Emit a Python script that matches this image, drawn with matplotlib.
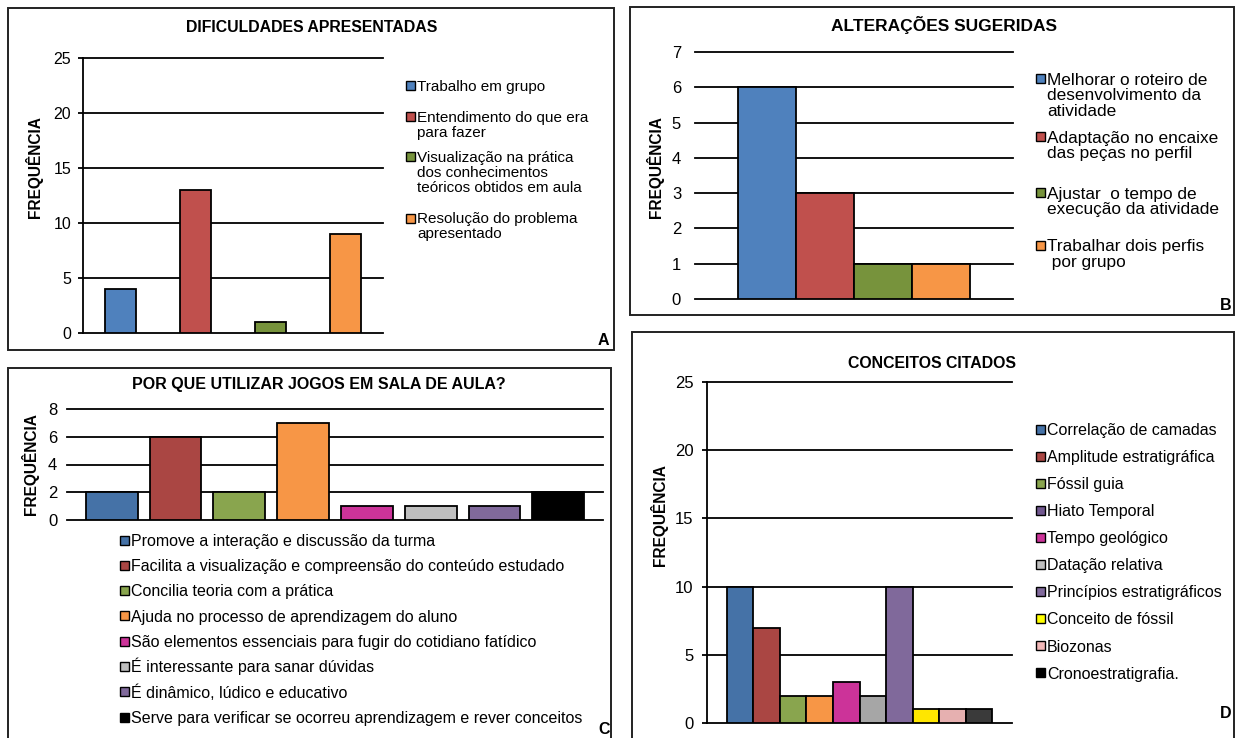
import matplotlib
matplotlib.use("Agg")
import matplotlib.pyplot as plt
from matplotlib.patches import Rectangle

plt.rcParams['font.family'] = ['Liberation Sans', 'DejaVu Sans']

W, H = 1236, 738

# ---- data -------------------------------------------------------------
a_title = "DIFICULDADES APRESENTADAS"
a_labels = ["Trabalho em grupo",
            "Entendimento do que era\npara fazer",
            "Visualização na prática\ndos conhecimentos\nteóricos obtidos em aula",
            "Resolução do problema\napresentado"]
a_values = [4, 13, 1, 9]
a_colors = ["#4F81BD", "#C0504D", "#77933C", "#F79646"]

b_title = "ALTERAÇÕES SUGERIDAS"
b_labels = ["Melhorar o roteiro de\ndesenvolvimento da\natividade",
            "Adaptação no encaixe\ndas peças no perfil",
            "Ajustar  o tempo de\nexecução da atividade",
            "Trabalhar dois perfis\n por grupo"]
b_values = [6, 3, 1, 1]
b_colors = ["#4F81BD", "#C0504D", "#77933C", "#F79646"]

c_title = "POR QUE UTILIZAR JOGOS EM SALA DE AULA?"
c_labels = ["Promove a interação e discussão da turma",
            "Facilita a visualização e compreensão do conteúdo estudado",
            "Concilia teoria com a prática",
            "Ajuda no processo de aprendizagem do aluno",
            "São elementos essenciais para fugir do cotidiano fatídico",
            "É interessante para sanar dúvidas",
            "É dinâmico, lúdico e educativo",
            "Serve para verificar se ocorreu aprendizagem e rever conceitos"]
c_values = [2, 6, 2, 7, 1, 1, 1, 2]
c_colors = ["#4572A7", "#AA4643", "#89A54E", "#F79646",
            "#CC3399", "#BFBFBF", "#80699B", "#000000"]

d_title = "CONCEITOS CITADOS"
d_labels = ["Correlação de camadas", "Amplitude estratigráfica", "Fóssil guia",
            "Hiato Temporal", "Tempo geológico", "Datação relativa",
            "Princípios estratigráficos", "Conceito de fóssil", "Biozonas",
            "Cronoestratigrafia."]
d_values = [10, 7, 2, 2, 3, 2, 10, 1, 1, 1]
d_bar_colors = ["#4572A7", "#AA4643", "#89A54E", "#F79646", "#CC3399",
                "#A6A6A6", "#80699B", "#FFE600", "#E6B0B0", "#3A3A3A"]
d_legend_colors = ["#4572A7", "#AA4643", "#89A54E", "#71588F", "#CC3399",
                   "#BFBFBF", "#80699B", "#FFFF00", "#F2B8B8", "#000000"]


# ---- helpers ----------------------------------------------------------
def px_rect(x0, y0, x1, y1):
    """Pixel box (top-left origin) -> figure fraction rect."""
    return [x0 / W, 1 - y1 / H, (x1 - x0) / W, (y1 - y0) / H]


def bar_panel(fig, rect, values, colors, width, xlim, ylim, yticks,
              spine=True, tick_len=0, pad=6, tick_size=11.5):
    ax = fig.add_axes(px_rect(*rect))
    ax.bar(range(len(values)), values, width=width, color=colors,
           edgecolor="black", linewidth=1.3, zorder=3)
    ax.set_xlim(*xlim)
    ax.set_ylim(*ylim)
    ax.set_yticks(yticks)
    ax.set_xticks([])
    ax.set_axisbelow(True)
    ax.yaxis.grid(True, color="black", linewidth=1.3)
    for g in ax.get_ygridlines():
        g.set_clip_on(False)
    for side in ["top", "right", "bottom"]:
        ax.spines[side].set_visible(False)
    ax.spines["left"].set_visible(spine)
    ax.spines["left"].set_linewidth(1.3)
    ax.tick_params(axis="y", length=tick_len, width=1.3, pad=pad,
                   labelsize=tick_size, direction="out")
    ax.patch.set_alpha(0)
    return ax


def legend_rows(fig, labels, colors, x, baselines, size, line_h, box=9):
    # first line of each entry sits next to its colour square
    for lab, col, yb in zip(labels, colors, baselines):
        for i, line in enumerate(lab.split("\n")):
            fig.text((x + box + 2) / W, 1 - (yb + i * line_h) / H, line,
                     fontsize=size, va="baseline", ha="left")
        yc = yb - 0.36 * size * 100 / 72
        fig.add_artist(Rectangle((x / W, 1 - (yc + box / 2) / H), box / W, box / H,
                                 transform=fig.transFigure, facecolor=col,
                                 edgecolor="black", linewidth=1.0))


def panel_frame(fig, x0, y0, x1, y1, letter, lx, ly):
    fig.add_artist(Rectangle((x0 / W, 1 - y1 / H), (x1 - x0) / W, (y1 - y0) / H,
                             transform=fig.transFigure, fill=False,
                             edgecolor="#222222", linewidth=1.4))
    fig.text(lx / W, 1 - ly / H, letter, fontsize=11.5, fontweight="bold",
             ha="center", va="center")


def head(fig, x, y, text, size):
    fig.text(x / W, 1 - y / H, text, fontsize=size, fontweight="bold",
             ha="center", va="center")


def ylab(fig, x, y):
    fig.text(x / W, 1 - y / H, "FREQUÊNCIA", fontsize=11.2, fontweight="bold",
             rotation=90, ha="center", va="center")


fig = plt.figure(figsize=(W / 100, H / 100), dpi=100)

# ---- panel A ----------------------------------------------------------
panel_frame(fig, 8, 8, 614, 350, "A", 603, 340)
head(fig, 312, 28, a_title, 11.4)
ylab(fig, 34, 167)
bar_panel(fig, (83, 58, 383, 333), a_values, a_colors, 0.41,
          (-0.5, 3.5), (0, 25), range(0, 26, 5), spine=True, tick_len=3.6, pad=5)
legend_rows(fig, a_labels, a_colors, 406, [90.5, 122, 162, 223.5], 11, 14.8)

# ---- panel B ----------------------------------------------------------
panel_frame(fig, 630, 7, 1234, 315, "B", 1226, 306)
head(fig, 944, 25, b_title, 12.5)
ylab(fig, 655, 167)
bar_panel(fig, (695, 52, 1013, 299), b_values, b_colors, 1.0,
          (-1.24, 4.24), (0, 7), range(0, 8), spine=False, pad=10, tick_size=12)
legend_rows(fig, b_labels, b_colors, 1036, [85, 142.5, 198.5, 251.5], 12.4, 15.3)

# ---- panel C ----------------------------------------------------------
panel_frame(fig, 8, 368, 611, 745, "C", 604, 729)
head(fig, 319, 385, c_title, 11.5)
ylab(fig, 30, 464)
bar_panel(fig, (67, 409, 603, 520), c_values, c_colors, 0.81,
          (-0.7, 7.7), (0, 8), range(0, 9, 2), spine=False, pad=7, tick_size=12)
legend_rows(fig, c_labels, c_colors, 120, [540 + 5.8 + 25.3 * i for i in range(8)],
            11.5, 15)

# ---- panel D ----------------------------------------------------------
panel_frame(fig, 632, 332, 1234, 745, "D", 1226, 714)
head(fig, 932, 363, d_title, 11.4)
ylab(fig, 659, 515)
bar_panel(fig, (707, 382, 1012, 723), d_values, d_bar_colors, 1.0,
          (-1.25, 10.25), (0, 25), range(0, 26, 5), spine=True, tick_len=3.6, pad=6,
          tick_size=12)
legend_rows(fig, d_labels, d_legend_colors, 1036, [429 + 5.8 + 27.1 * i for i in range(10)],
            11.5, 15)

fig.savefig("out.png", dpi=100)
